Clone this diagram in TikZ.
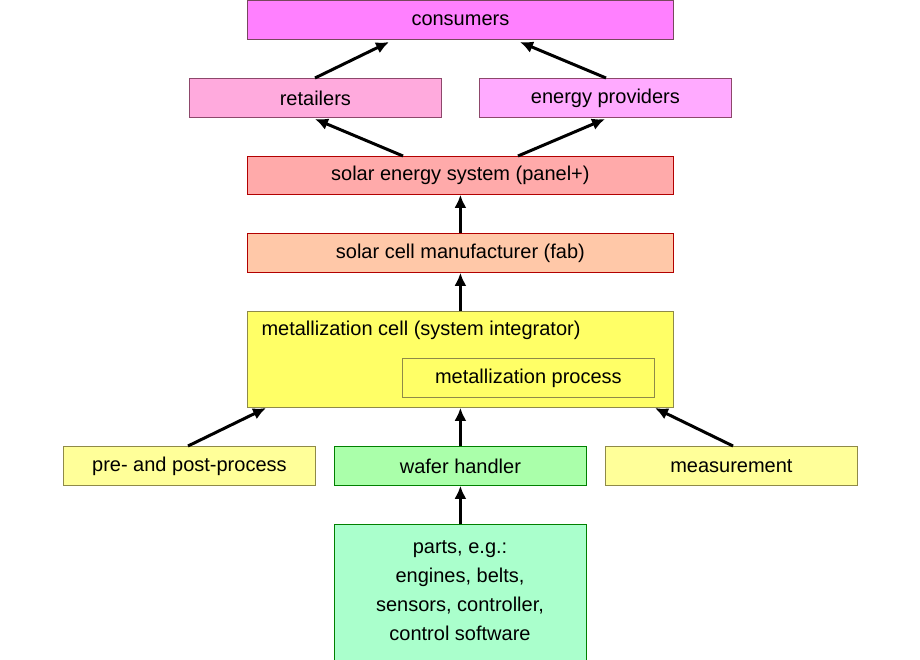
\documentclass[tikz,border=0pt]{standalone}
\usepackage{fontspec}
\setmainfont{Liberation Sans}
\usetikzlibrary{arrows.meta}
\definecolor{cCons}{HTML}{FF80FF}
\definecolor{cRet}{HTML}{FFAADD}
\definecolor{cEP}{HTML}{FFAAFF}
\definecolor{cSES}{HTML}{FFAAAA}
\definecolor{cFab}{HTML}{FFC8A8}
\definecolor{cMet}{HTML}{FFFF66}
\definecolor{cPre}{HTML}{FFFF99}
\definecolor{cWaf}{HTML}{AAFFAA}
\definecolor{cPart}{HTML}{AAFFCC}
\begin{document}
\begin{tikzpicture}[x=1pt,y=-1pt,
  box/.style={draw, line width=0.8pt},
  txt/.style={font=\fontsize{20}{24}\selectfont},
  arr/.style={-{Latex[length=13pt,width=12pt]}, line width=3pt}]
\useasboundingbox (0,0) rectangle (920,660);
\newcommand{\bx}[7]{\node[box,fill=#6,draw=#7,minimum width=#4-#2,minimum height=#5-#3,anchor=north west] (#1) at (#2,#3) {};}
\bx{cons}{247}{0}{673}{39}{cCons}{black!60!magenta}
\node[txt] at (cons) {consumers};
\bx{ret}{189}{78}{441}{117}{cRet}{black!50!magenta}
\node[txt] at (ret) {retailers};
\bx{ep}{479}{78}{731}{117}{cEP}{black!50!magenta}
\node[txt] at (ep) {energy providers};
\bx{ses}{247}{156}{673}{194}{cSES}{red!70!black}
\node[txt] at (ses) {solar energy system (panel+)};
\bx{fab}{247}{233}{673}{272}{cFab}{red!70!black}
\node[txt] at (fab) {solar cell manufacturer (fab)};
\bx{met}{247}{311}{673}{407}{cMet}{black!50!yellow}
\node[txt,anchor=west] (metT) at (258,330) {metallization cell (system integrator)};
\bx{mp}{402}{358}{654}{397}{cMet}{black!50!yellow}
\node[txt] at (mp) {metallization process};
\bx{pre}{63}{446}{315}{485}{cPre}{black!50!yellow}
\node[txt] at (pre) {pre- and post-process};
\bx{waf}{334}{446}{586}{485}{cWaf}{green!50!black}
\node[txt] at (waf) {wafer handler};
\bx{meas}{605}{446}{857}{485}{cPre}{black!50!yellow}
\node[txt] at (meas) {measurement};
\bx{parts}{334}{524}{586}{662}{cPart}{green!50!black}
\node[font=\fontsize{20}{29}\selectfont,align=center] at (460,591) {parts, e.g.:\\engines, belts,\\sensors, controller,\\control software};
\coordinate (a1) at (315,78); \coordinate (b1) at (389,42);
\coordinate (a2) at (606,78); \coordinate (b2) at (520,42);
\coordinate (a3) at (403,156); \coordinate (b3) at (315,119);
\coordinate (a4) at (518,156); \coordinate (b4) at (605,119);
\coordinate (a5) at (188,446); \coordinate (b5) at (266,408);
\coordinate (a6) at (733,446); \coordinate (b6) at (655,408);
\draw[arr] (a1) -- (b1);
\draw[arr] (a2) -- (b2);
\draw[arr] (a3) -- (b3);
\draw[arr] (a4) -- (b4);
\draw[arr] (fab.north) -- (ses.south);
\draw[arr] (met.north) -- (fab.south);
\draw[arr] (waf.north) -- (met.south);
\draw[arr] (parts.north) -- (waf.south);
\draw[arr] (a5) -- (b5);
\draw[arr] (a6) -- (b6);
\end{tikzpicture}
\end{document}
